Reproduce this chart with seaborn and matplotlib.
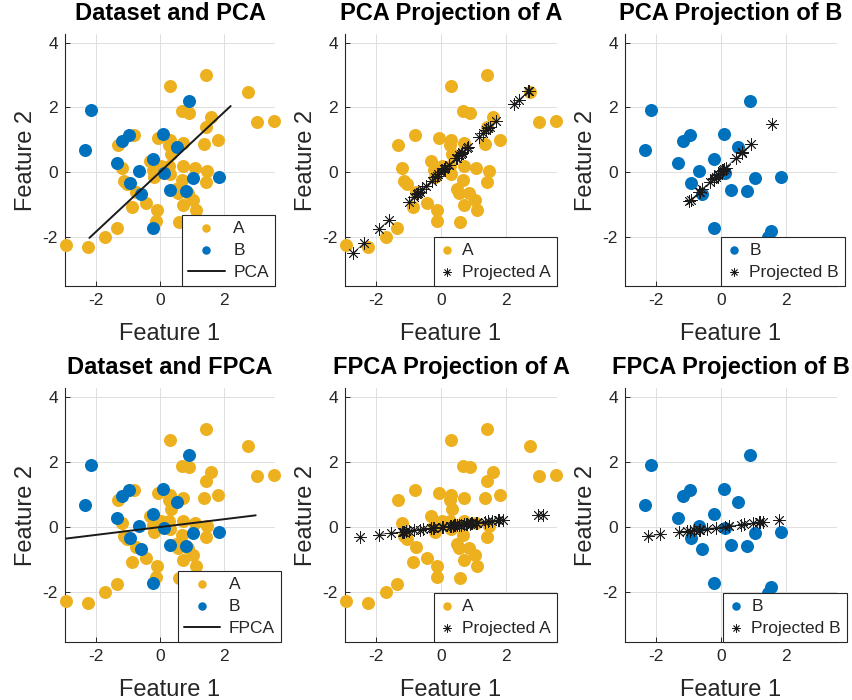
import numpy as np
import pandas as pd
import matplotlib
matplotlib.use("Agg")
import matplotlib.pyplot as plt
import seaborn as sns

# ---------------- data ----------------
A_x = [-2.93, -2.25, -1.71, -1.35, -1.31, -1.20, -1.13, -1.04, -0.86, -0.80,
       -0.76, -0.44, -0.30, -0.07, -0.11, -0.13, -0.19, -0.22, 0.02, 0.32,
       0.31, 0.29, 0.34, 0.28, 0.30, 0.50, 0.60, 0.68, 0.90, 0.70,
       0.70, 0.67, 0.70, 0.86, 1.04, 1.11, 1.08, 1.42, 1.37, 1.42,
       1.47, 1.42, 1.60, 1.81, 2.74, 3.01, 3.55, 0.57]
A_y = [-2.27, -2.32, -2.00, -1.74, 0.84, 0.13, -0.28, -0.38, -1.08, 1.14,
       -0.62, -0.96, 0.33, 1.04, -1.19, -1.53, -0.16, 0.07, 0.18, 2.67,
       0.99, 0.83, 0.55, 0.18, -0.06, -0.52, -1.56, 1.89, 1.83, 0.89,
       0.19, -0.25, -1.01, -0.65, -0.86, -1.19, 0.13, 3.01, 0.88, 1.40,
       0.03, -0.32, 1.69, 0.99, 2.48, 1.56, 1.59, -0.64]
B_x = [-2.15, -2.35, -1.34, -1.17, -0.97, -0.93, -0.67, -0.60, -0.22, -0.22,
       0.10, 0.13, 0.52, 0.32, 0.80, 0.91, 1.04, 1.85, 1.45, 1.55]
B_y = [1.91, 0.67, 0.29, 0.95, 1.14, -0.34, 0.03, -0.68, 0.41, -1.72,
       1.18, -0.03, 0.77, -0.55, -0.58, 2.20, -0.18, -0.15, -2.01, -1.84]

pca_dir = [0.733, 0.680]      # direction of the PCA line
fpca_dir = [0.993, 0.120]     # direction of the FPCA line
line_t = [-3.0, 3.0]          # extent of the drawn component line

x_ticks = [-2, 0, 2]
y_ticks = [-2, 0, 2, 4]
titles = ["Dataset and PCA", "PCA Projection of A", "PCA Projection of B",
          "Dataset and FPCA", "FPCA Projection of A", "FPCA Projection of B"]

COL_A = "#EDB120"
COL_B = "#0072BD"
DARK = "#262626"

# ---------------- style ----------------
sns.set_theme(style="white")
plt.rcParams["font.family"] = ["Liberation Sans", "DejaVu Sans"]
plt.rcParams["axes.unicode_minus"] = False

W, H = 853, 700
fig = plt.figure(figsize=(W / 100, H / 100), dpi=100)

lefts = [65, 345, 625]
rights = [275, 557, 837]
tops = [34, 388]
bottoms = [286, 642]
leg_right = [[275, 557, 845], [281, 557, 847]]

XLIM = (-2.96, 3.58)
YLIM = (-3.53, 4.27)


def make_ax(r, c):
    l, rr, t, b = lefts[c], rights[c], tops[r], bottoms[r]
    ax = fig.add_axes([l / W, 1 - b / H, (rr - l) / W, (b - t) / H])
    ax.set_xlim(*XLIM)
    ax.set_ylim(*YLIM)
    ax.set_xticks(x_ticks)
    ax.set_yticks(y_ticks)
    ax.grid(True, color="#dedede", lw=0.7)
    ax.set_axisbelow(True)
    for s in ["top", "right"]:
        ax.spines[s].set_visible(False)
    for s in ["left", "bottom"]:
        ax.spines[s].set_color(DARK)
        ax.spines[s].set_linewidth(0.8)
    ax.tick_params(direction="in", length=3.5, width=0.7, colors=DARK,
                   labelsize=12.5, pad=5, left=True, bottom=True)
    ax.set_title(titles[r * 3 + c], fontsize=17, fontweight="bold", pad=10,
                 color="black")
    return ax


def labels(ax):
    ax.set_xlabel("Feature 1", fontsize=17, color=DARK, labelpad=11)
    ax.set_ylabel("Feature 2", fontsize=17, color=DARK, labelpad=4)


def legend(ax, r, c, handlelength):
    leg = ax.legend(loc="lower right",
                    bbox_to_anchor=(leg_right[r][c] / W, 1 - bottoms[r] / H),
                    bbox_transform=fig.transFigure, borderaxespad=0,
                    frameon=True, fancybox=False, framealpha=1,
                    edgecolor=DARK, fontsize=12.5, handlelength=handlelength,
                    borderpad=0.35, labelspacing=0.4, handletextpad=0.5,
                    markerscale=0.65)
    leg.set_zorder(10)
    leg.get_frame().set_linewidth(0.8)


dfA = pd.DataFrame({"x": A_x, "y": A_y})
dfB = pd.DataFrame({"x": B_x, "y": B_y})


def project(df, d):
    d = np.asarray(d, float)
    d = d / np.linalg.norm(d)
    t = df[["x", "y"]].to_numpy() @ d
    p = pd.DataFrame({"t": t, "x": t * d[0], "y": t * d[1]}).sort_values("t")
    inside = p["x"].between(*XLIM) & p["y"].between(*YLIM)
    return p[inside]


def comp_line(d):
    d = np.asarray(d, float)
    d = d / np.linalg.norm(d)
    t = np.asarray(line_t)
    return pd.DataFrame({"x": t * d[0], "y": t * d[1]})


STAR = (8, 2, 0)


def points(ax, df, col, label):
    sns.scatterplot(data=df, x="x", y="y", color=col, s=88, linewidth=0,
                    ax=ax, label=label, clip_on=False, zorder=3)


def draw_projection(ax, proj, label):
    seg = (proj["t"].diff().fillna(0) > 0.48).cumsum()
    for _, g in proj.groupby(seg):
        if len(g) > 1:
            sns.lineplot(data=g, x="x", y="y", sort=False, color="k",
                         lw=0.5, ax=ax, legend=False, zorder=4)
    sns.scatterplot(data=proj, x="x", y="y", marker=STAR, color="k", s=70,
                    linewidth=0.6, ax=ax, label=label, zorder=5,
                    clip_on=False)


for r, (d, name) in enumerate([(pca_dir, "PCA"), (fpca_dir, "FPCA")]):
    ax = make_ax(r, 0)
    points(ax, dfA, COL_A, "A")
    points(ax, dfB, COL_B, "B")
    sns.lineplot(data=comp_line(d), x="x", y="y", sort=False, color="k",
                 lw=1.4, ax=ax, label=name, zorder=6)
    labels(ax)
    legend(ax, r, 0, 2.1)

    ax = make_ax(r, 1)
    points(ax, dfA, COL_A, "A")
    draw_projection(ax, project(dfA, d), "Projected A")
    labels(ax)
    legend(ax, r, 1, 0.8)

    ax = make_ax(r, 2)
    points(ax, dfB, COL_B, "B")
    draw_projection(ax, project(dfB, d), "Projected B")
    labels(ax)
    legend(ax, r, 2, 0.8)

for a in fig.axes:
    a.set_xlim(*XLIM)
    a.set_ylim(*YLIM)

fig.savefig("out.png", dpi=100, facecolor="white")
